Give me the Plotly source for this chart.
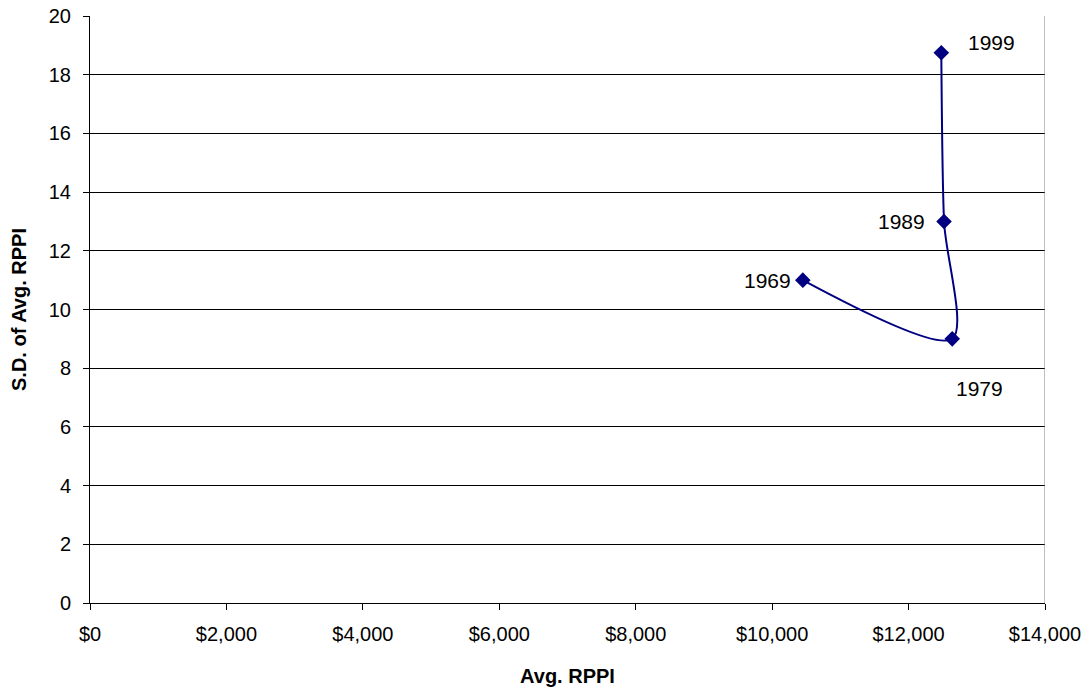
import plotly.graph_objects as go

years = ["1969", "1979", "1989", "1999"]
avg_rppi = [10450, 12640, 12520, 12480]
sd_rppi = [11.0, 9.0, 13.0, 18.75]

# label offsets in pixels (dx, dy) relative to each point
label_offsets = [(-35, 0), (27, -50), (-43, 0), (50, 10)]

navy = "#000080"
font_family = "Liberation Sans, Arial"

fig = go.Figure()
fig.add_trace(go.Scatter(
    x=avg_rppi, y=sd_rppi, mode="lines+markers",
    line=dict(color=navy, width=2, shape="spline", smoothing=0.8),
    marker=dict(symbol="diamond", size=12, color=navy),
    showlegend=False, hoverinfo="skip",
))

for yr, xv, yv, (dx, dy) in zip(years, avg_rppi, sd_rppi, label_offsets):
    fig.add_annotation(x=xv, y=yv, text=yr, showarrow=False,
                       xshift=dx, yshift=dy,
                       font=dict(family=font_family, size=21, color="black"))

fig.update_layout(
    width=1089, height=696,
    margin=dict(l=90, r=44, t=16, b=93),
    paper_bgcolor="white", plot_bgcolor="white",
    font=dict(family=font_family, size=20, color="black"),
    xaxis=dict(
        range=[0, 14000], tickvals=list(range(0, 14001, 2000)),
        tickformat="$,d", showgrid=False, zeroline=False, automargin=False,
        showline=True, linecolor="black", linewidth=1, mirror=False,
        ticks="outside", ticklen=6, tickcolor="black", ticklabelstandoff=7,
        title=dict(text="<b>Avg. RPPI</b>", font=dict(size=20), standoff=24),
        tickfont=dict(size=20),
    ),
    yaxis=dict(
        range=[0, 20], dtick=2, showgrid=True, gridcolor="black", gridwidth=1,
        zeroline=False, showline=True, linecolor="black", linewidth=1,
        automargin=False,
        ticks="outside", ticklen=6, tickcolor="black", ticklabelstandoff=8,
        title=dict(text="<b>S.D. of Avg. RPPI</b>", font=dict(size=20), standoff=16),
        tickfont=dict(size=20),
    ),
)

# right border of plot area
fig.add_shape(type="line", xref="x", yref="paper", x0=14000, x1=14000, y0=0, y1=1,
              line=dict(color="#808080", width=1))

fig.write_html("out.html")
